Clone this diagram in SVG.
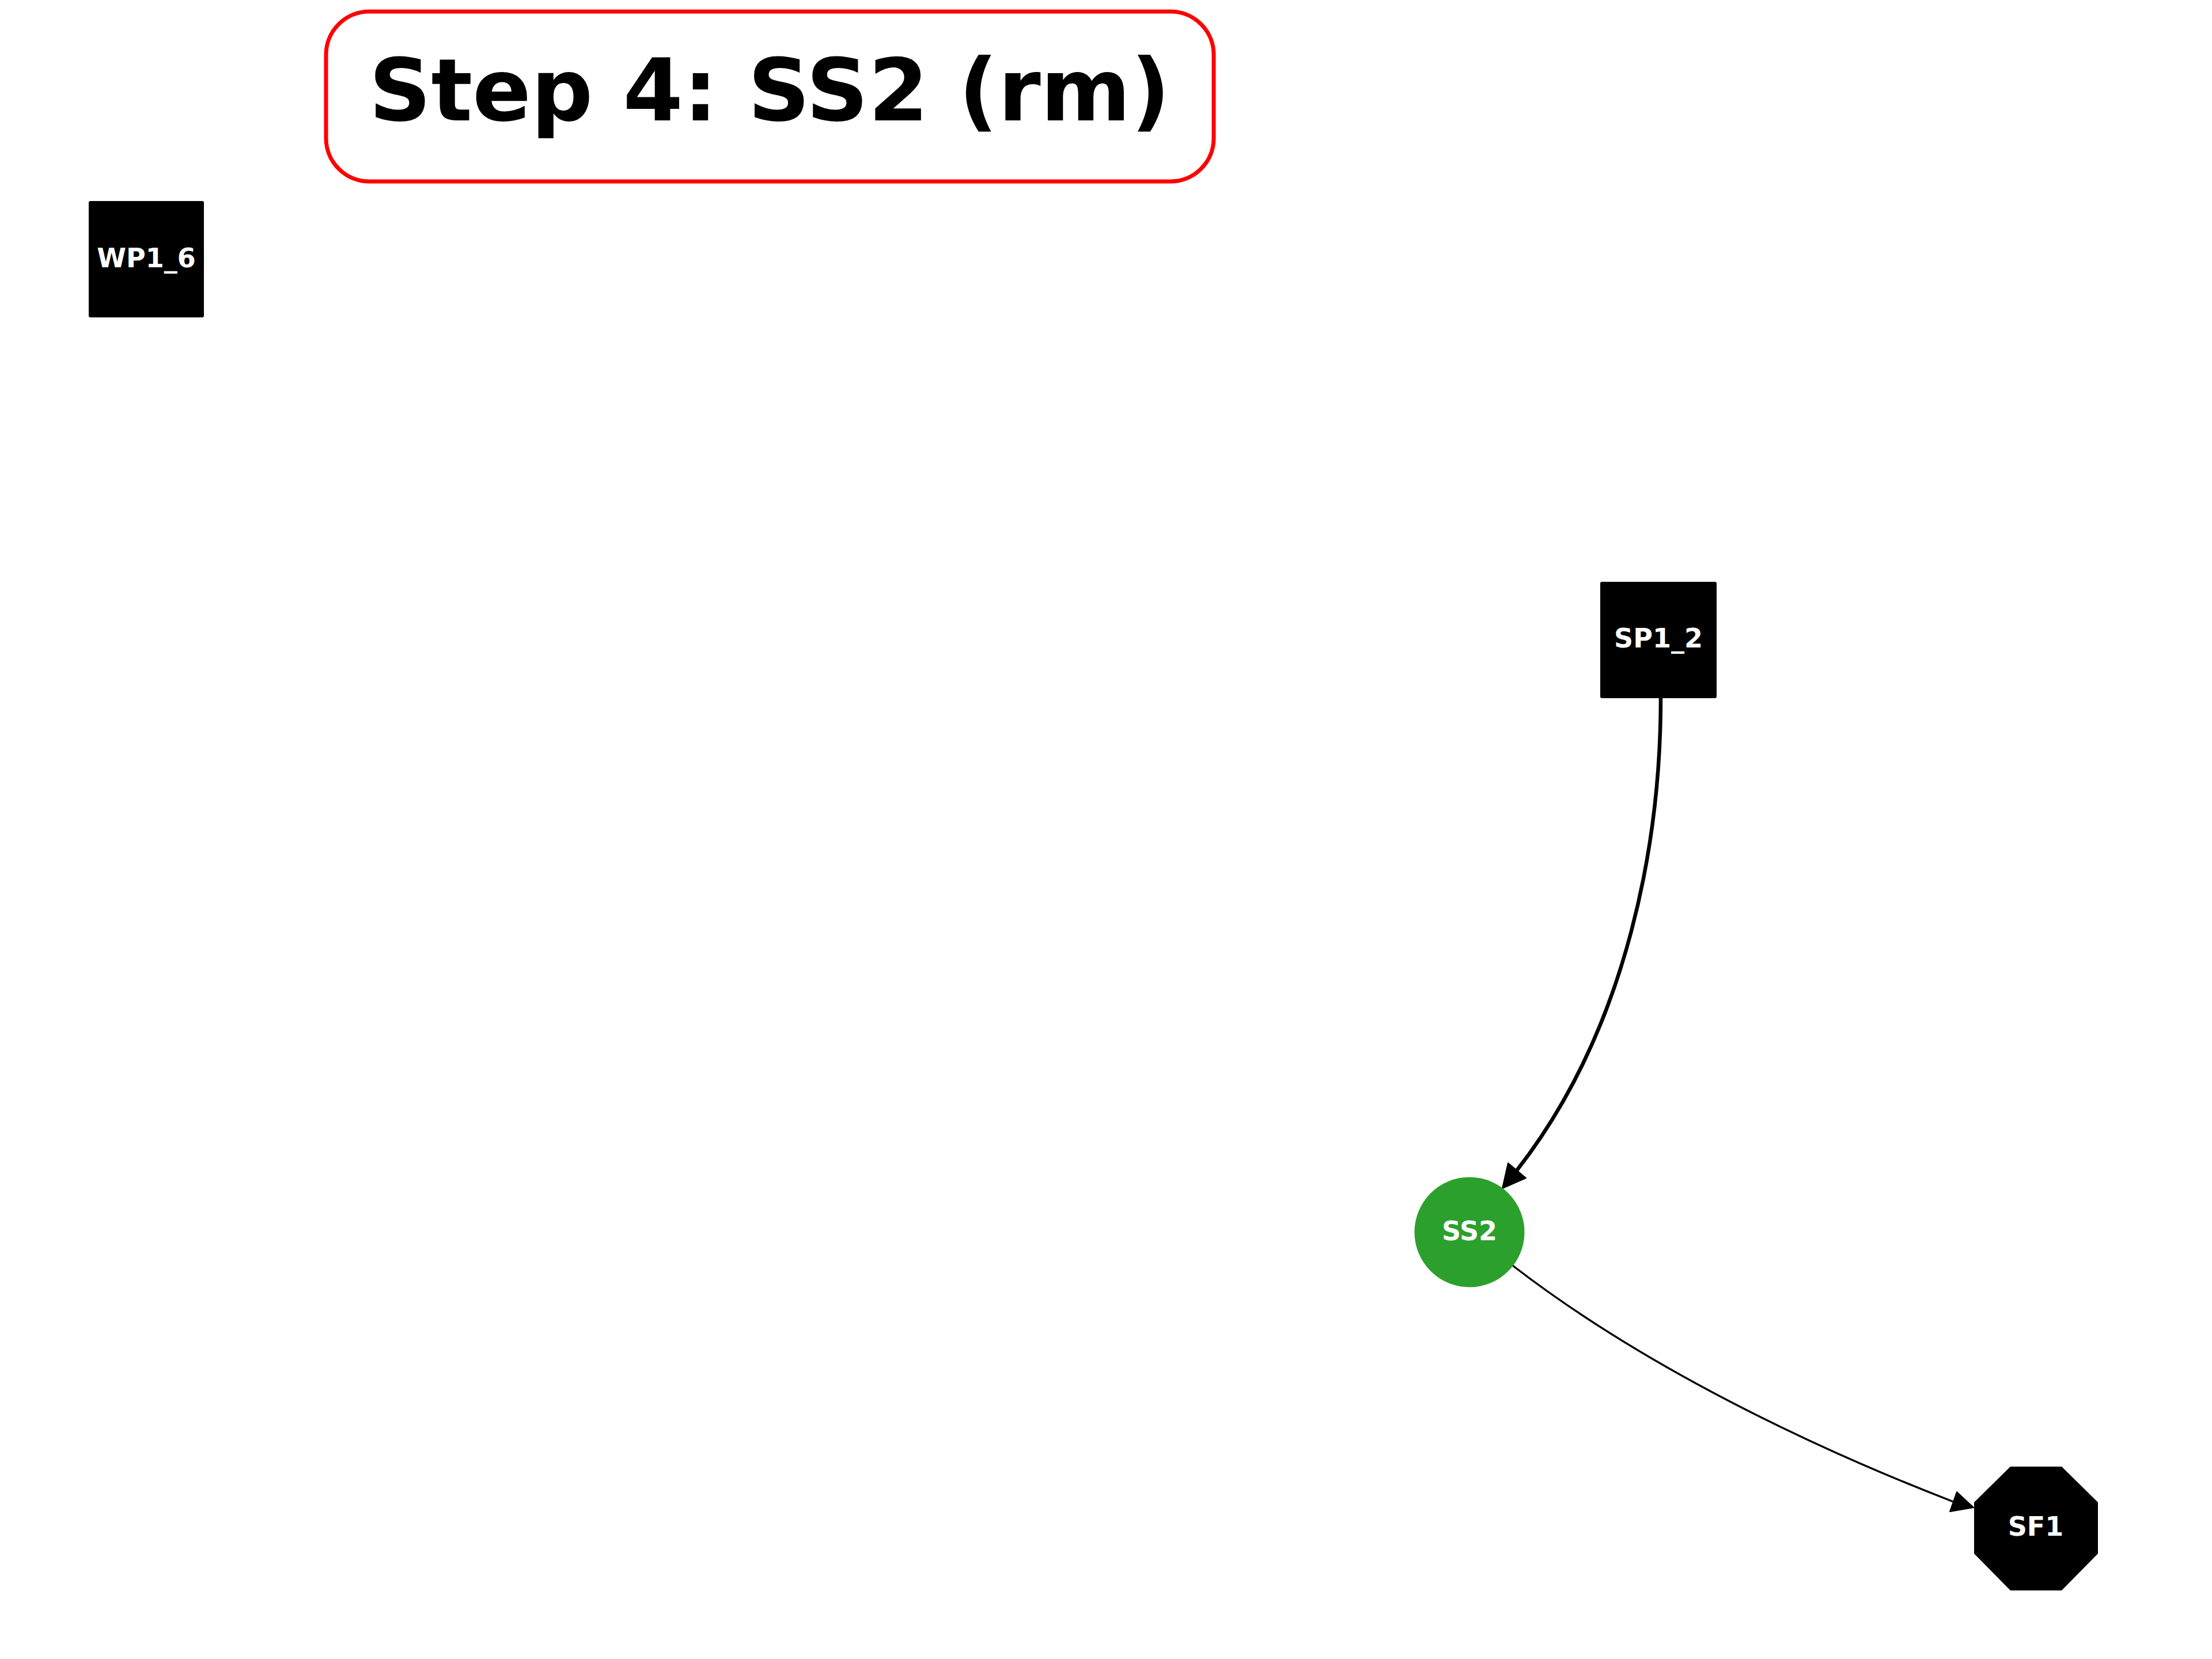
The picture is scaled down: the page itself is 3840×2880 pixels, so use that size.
<svg xmlns="http://www.w3.org/2000/svg" width="3840" height="2880" viewBox="0 0 3840 2880">
<style>
.lbl{font-family:"DejaVu Sans","Liberation Sans",sans-serif;font-weight:bold;font-size:46px;fill:#ffffff;text-anchor:middle}
.title{font-family:"DejaVu Sans","Liberation Sans",sans-serif;font-weight:bold;font-size:150px;fill:#000000;text-anchor:middle}
.box{fill:#000000}
.edge{fill:none;stroke:#000000}
.head{fill:#000000;stroke:#000000;stroke-width:2;stroke-linejoin:round}
</style>
<rect width="3840" height="2880" fill="#ffffff"/>
<g id="title">
<rect x="566" y="20" width="1541" height="295" rx="75" ry="75" fill="#ffffff" stroke="#ff0000" stroke-width="7"/>
<text class="title" x="1336" y="209">Step 4: SS2 (rm)</text>
</g>
<g id="connectors">
<path class="edge" stroke-width="6.5" d="M2883,1212 C2883,1450 2830,1780 2633,2032"/>
<polygon class="head" points="2608,2063 2618,2019 2649,2045"/>
<path class="edge" stroke-width="3.4" d="M2626,2197 C2850,2370 3140,2510 3391,2607"/>
<polygon class="head" points="3426,2617 3397,2590 3385,2624"/>
</g>
<g id="WP1_6">
<rect class="box" x="154" y="349" width="200" height="202" rx="3"/>
<text class="lbl" x="254" y="464">WP1_6</text>
</g>
<g id="SP1_2">
<rect class="box" x="2778" y="1010" width="202" height="202" rx="3"/>
<text class="lbl" x="2879" y="1124">SP1_2</text>
</g>
<g id="SS2">
<circle cx="2551" cy="2139" r="95.5" fill="#2ca02c"/>
<text class="lbl" x="2551" y="2153">SS2</text>
</g>
<g id="SF1">
<polygon class="box" points="3490,2546 3579,2546 3642,2608 3642,2697 3579,2761 3490,2761 3427,2697 3427,2608"/>
<text class="lbl" x="3534" y="2666">SF1</text>
</g>
</svg>
